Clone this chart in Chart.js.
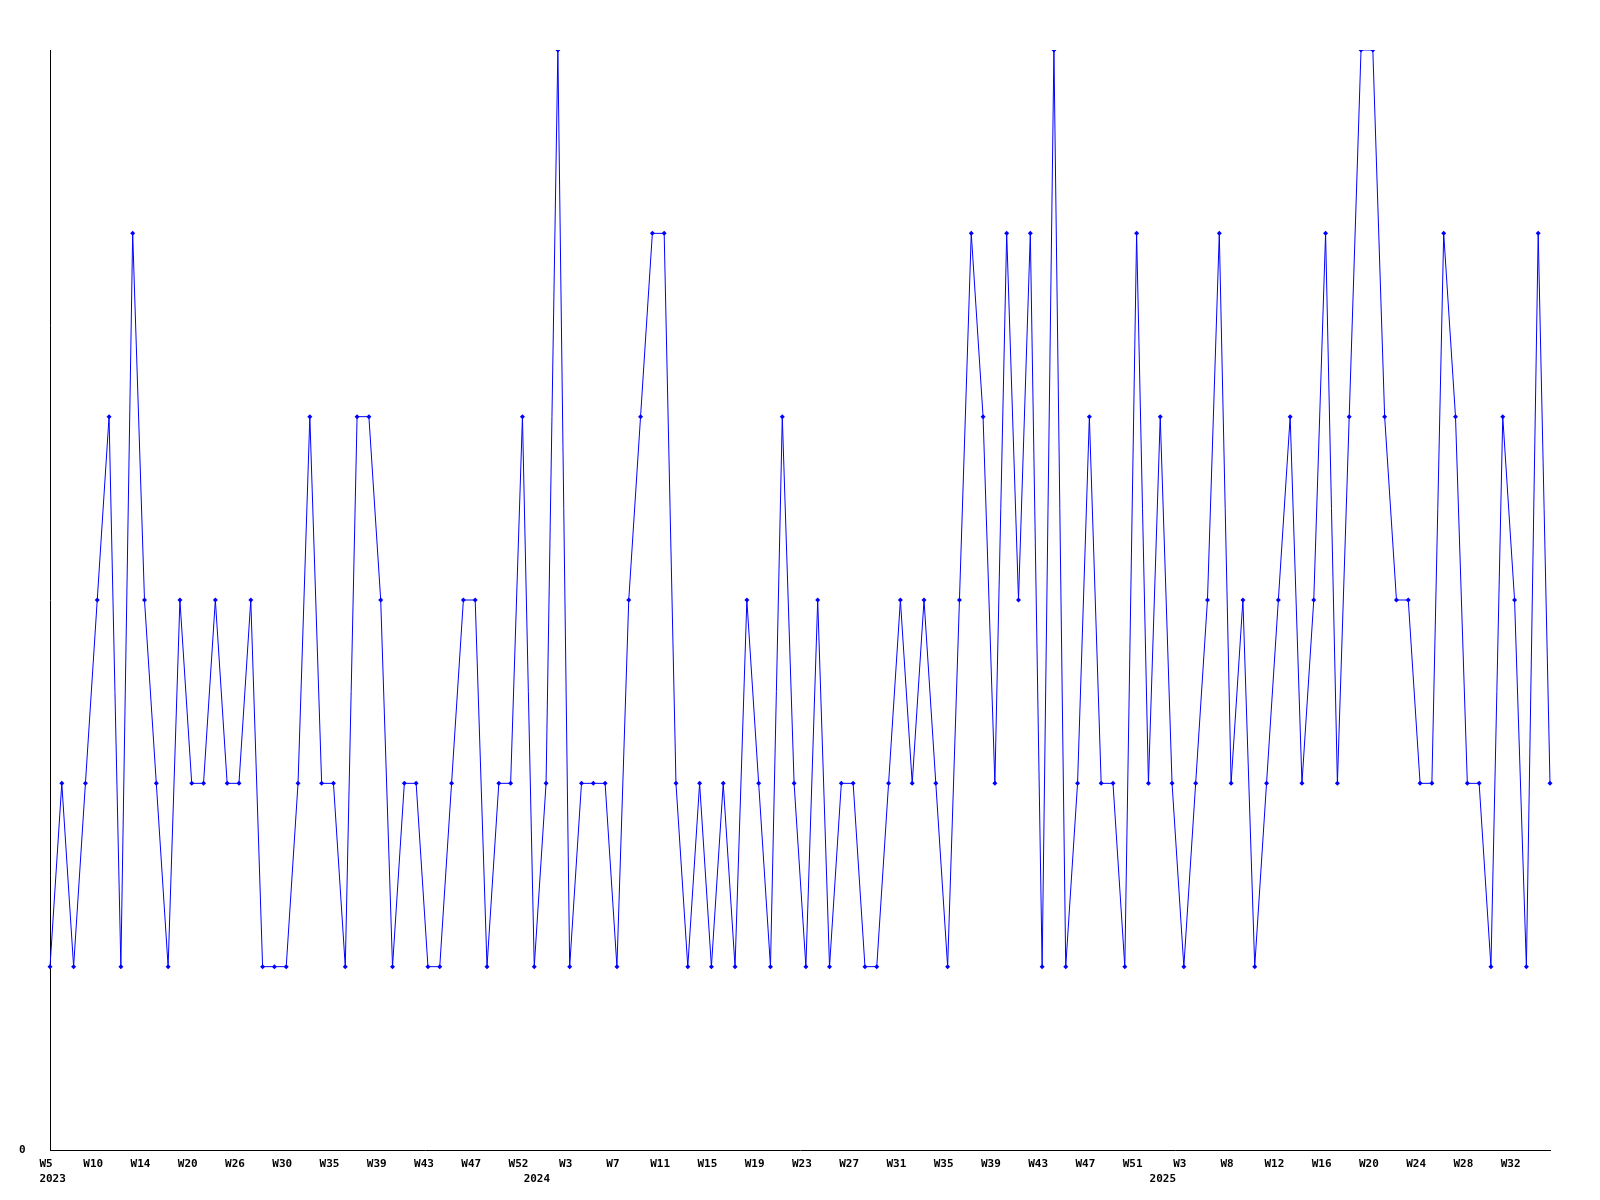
<!DOCTYPE html>
<html>
<head>
<meta charset="utf-8">
<title>Weekly count</title>
<script src="https://cdn.jsdelivr.net/npm/chart.js@4/dist/chart.umd.min.js"></script>
<style>
  html, body { margin: 0; padding: 0; background: #fff; }
  #chart { display: block; }
</style>
</head>
<body>
<canvas id="chart" width="1600" height="1200"></canvas>
<script>
// one value per week shown, 128 points
const counts = [
  1, 2, 1, 2, 3, 4, 1, 5, 3, 2, 1, 3, 2, 2, 3, 2,
  2, 3, 1, 1, 1, 2, 4, 2, 2, 1, 4, 4, 3, 1, 2, 2,
  1, 1, 2, 3, 3, 1, 2, 2, 4, 1, 2, 6, 1, 2, 2, 2,
  1, 3, 4, 5, 5, 2, 1, 2, 1, 2, 1, 3, 2, 1, 4, 2,
  1, 3, 1, 2, 2, 1, 1, 2, 3, 2, 3, 2, 1, 3, 5, 4,
  2, 5, 3, 5, 1, 6, 1, 2, 4, 2, 2, 1, 5, 2, 4, 2,
  1, 2, 3, 5, 2, 3, 1, 2, 3, 4, 2, 3, 5, 2, 4, 6,
  6, 4, 3, 3, 2, 2, 5, 4, 2, 2, 1, 4, 3, 1, 5, 2
];

// tick labels, every 4th point
const weekTicks = [
  'W5', 'W10', 'W14', 'W20', 'W26', 'W30', 'W35', 'W39', 'W43', 'W47', 'W52',
  'W3', 'W7', 'W11', 'W15', 'W19', 'W23', 'W27', 'W31', 'W35', 'W39', 'W43', 'W47', 'W51',
  'W3', 'W8', 'W12', 'W16', 'W20', 'W24', 'W28', 'W32'
];
const years = ['2023', '2024', '2025'];
const yearIdx = [0, 41, 94];

// build category labels (two lines: week / year); year nudged right a bit
const labels = counts.map((_, i) => {
  const wk = i % 4 === 0 ? (weekTicks[i / 4] || '') : '';
  const y = yearIdx.indexOf(i);
  return y >= 0 ? [wk, '  ' + years[y]] : wk;
});

const font = { family: '"DejaVu Sans Mono", monospace', size: 11, weight: 'bold', lineHeight: 1.4 };

new Chart(document.getElementById('chart'), {
  type: 'line',
  data: {
    labels: labels,
    datasets: [{
      data: counts,
      borderColor: '#0000ff',
      backgroundColor: '#0000ff',
      borderWidth: 1,
      tension: 0,
      fill: false,
      pointStyle: 'rectRot',
      pointRadius: 2.5,
      pointBorderWidth: 0,
      pointBackgroundColor: '#0000ff'
    }]
  },
  options: {
    responsive: false,
    animation: false,
    layout: { padding: { top: 50, right: 50, left: 19, bottom: 0 } },
    plugins: { legend: { display: false }, tooltip: { enabled: false } },
    scales: {
      x: {
        type: 'category',
        offset: false,
        grid: { display: false },
        border: { display: true, color: '#000', width: 1 },
        ticks: {
          autoSkip: false,
          maxRotation: 0,
          minRotation: 0,
          padding: -2,
          color: '#000',
          font: font,
          labelOffset: -4
        },
        afterFit: s => { s.height = 50; }
      },
      y: {
        min: 0,
        max: 6,
        grid: { display: false },
        border: { display: true, color: '#000', width: 1 },
        afterBuildTicks: s => { s.ticks = [{ value: 0 }]; },
        ticks: {
          color: '#000',
          font: { family: font.family, size: 11, weight: 'bold' },
          crossAlign: 'far',
          callback: v => String(v)
        },
        afterFit: s => { s.width = 31; }
      }
    }
  }
});
</script>
</body>
</html>
